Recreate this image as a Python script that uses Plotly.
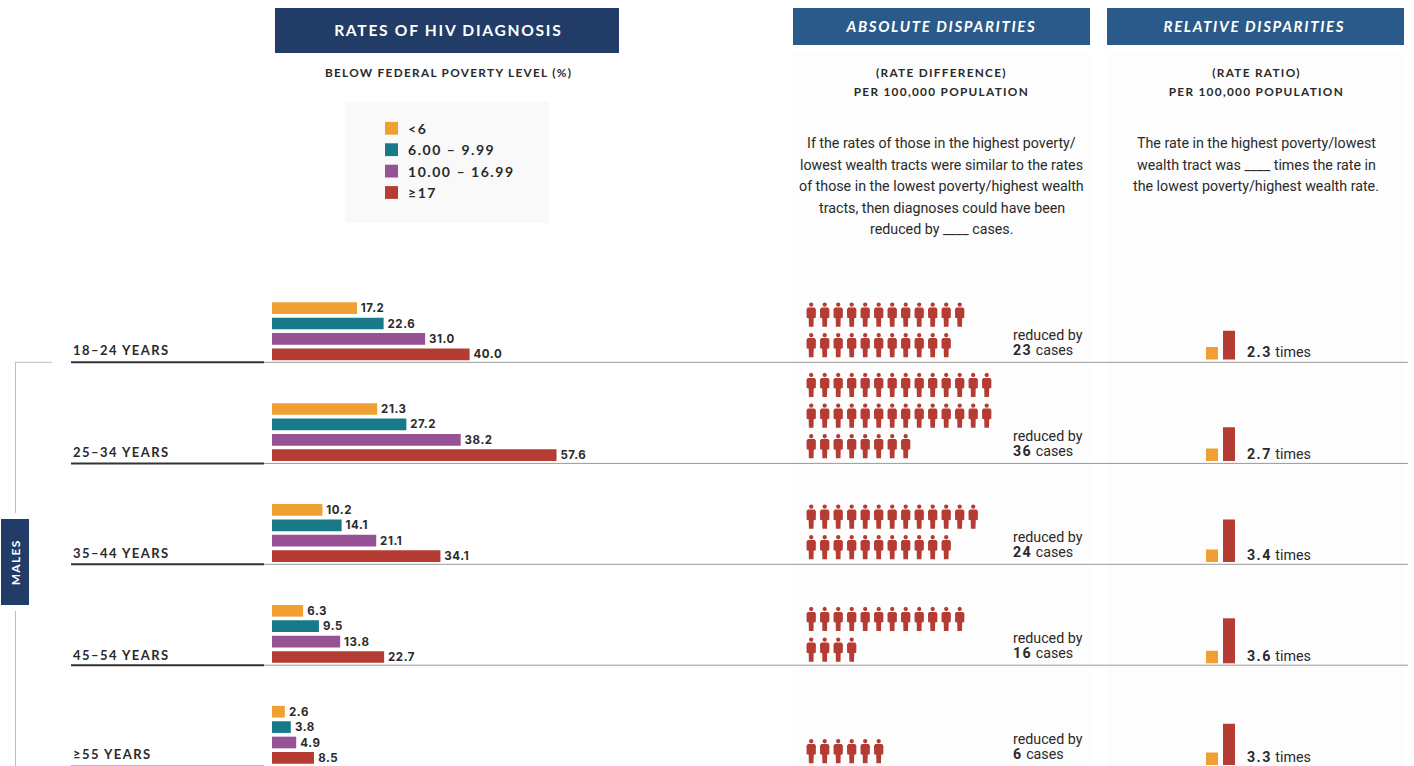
import plotly.graph_objects as go

W, H = 1414, 766

AGE_GROUPS = ["18–24 YEARS", "25–34 YEARS", "35–44 YEARS", "45–54 YEARS", "≥55 YEARS"]
POVERTY_LEVELS = ["<6", "6.00 – 9.99", "10.00 – 16.99", "≥17"]
RATE_LT6 = [17.2, 21.3, 10.2, 6.3, 2.6]
RATE_6_10 = [22.6, 27.2, 14.1, 9.5, 3.8]
RATE_10_17 = [31.0, 38.2, 21.1, 13.8, 4.9]
RATE_GE17 = [40.0, 57.6, 34.1, 22.7, 8.5]
CASES_REDUCED = [23, 36, 24, 16, 6]
PEOPLE_PER_ROW = [12, 14, 13, 12, 6]
RATE_RATIO = [2.3, 2.7, 3.4, 3.6, 3.3]

ORANGE = "#f0a033"
TEAL = "#187a89"
PURPLE = "#975295"
RED = "#b53c33"
NAVY = "#203c67"
BLUE = "#2a5a89"
INK = "#2a2a2a"
HEAD_FONT = "Lato"
BODY_FONT = "Roboto"
NUM_FONT = "Inter"

BAR_PX_PER_UNIT = 4.94
BAR_X0 = 272
ROW_PITCH = 100.9
FIRST_ROW_CENTER = 331.2
RATIO_PX_PER_UNIT = 12.5

ROW_LINES = [362.3, 463.4, 564.3, 665.2, 765.7]
PEOPLE_BOTTOM = [357.3, 458.3, 559.3, 661.7, 763.3]
RATIO_BOTTOM = [359.5, 461, 562, 663.3, 765]
REDUCED_Y = [335, 436, 537, 638, 739]
TIMES_Y = [352, 453.5, 554.5, 656, 757]
LABEL_Y = [350, 452, 553, 655, 754]

ABSOLUTE_NOTE = [
    "If the rates of those in the highest poverty/",
    "lowest wealth tracts were similar to the rates",
    "of those in the lowest poverty/highest wealth",
    "tracts, then diagnoses could have been",
    "reduced by ____ cases.",
]
RELATIVE_NOTE = [
    "The rate in the highest poverty/lowest",
    "wealth tract was ____ times the rate in",
    "the lowest poverty/highest wealth rate.",
]


def _rect(x0, y0, x1, y1, color, layer="below"):
    return dict(type="rect", xref="x2", yref="y2", x0=x0, y0=y0, x1=x1, y1=y1,
                fillcolor=color, line=dict(width=0), layer=layer)


def _line(x0, y0, x1, y1, color, width=1.0):
    return dict(type="line", xref="x2", yref="y2", x0=x0, y0=y0, x1=x1, y1=y1,
                line=dict(color=color, width=width), layer="below")


def _text(x, y, text, size, font=BODY_FONT, color=INK, anchor="center", bold=False, italic=False, angle=0):
    return dict(
        x=x, y=y, xref="x2", yref="y2", text=text, showarrow=False, xanchor=anchor, yanchor="middle",
        align=anchor, textangle=angle, borderpad=0, borderwidth=0,
        font=dict(family=font, size=size, color=color, weight=700 if bold else 400,
                  style="italic" if italic else "normal"),
    )


def _person(cx, bottom):
    # outline of one figure, measured upward from the feet
    outline = [(-2.3, 0), (2.3, 0), (2.5, 8.5), (4.6, 9), (4.7, 17.5), (3.4, 19.2), (-3.4, 19.2), (-4.7, 17.5),
               (-4.6, 9), (-2.5, 8.5), (-2.3, 0)]
    head = [(0, 24.3), (1.6, 23.7), (2.2, 22.1), (1.6, 20.5), (0, 19.9), (-1.6, 20.5), (-2.2, 22.1), (-1.6, 23.7), (0, 24.3)]
    xs, ys = [], []
    for part in (outline, head):
        xs += [cx + p[0] for p in part] + [None]
        ys += [bottom - p[1] for p in part] + [None]
    return xs, ys


fig = go.Figure()

for name, rates, color in zip(POVERTY_LEVELS, [RATE_LT6, RATE_6_10, RATE_10_17, RATE_GE17], [ORANGE, TEAL, PURPLE, RED]):
    fig.add_trace(go.Bar(
        y=AGE_GROUPS, x=rates, name=name, orientation="h", marker=dict(color=color, line=dict(width=0)),
        text=[f"{r:.1f}" for r in rates], textposition="outside", cliponaxis=False, constraintext="none",
        textfont=dict(family=NUM_FONT, size=11.5, color=INK, weight=700),
        hovertemplate="%{y}<br>" + name + ": %{x}<extra></extra>",
    ))

person_x, person_y = [], []
for cases, per_row, bottom in zip(CASES_REDUCED, PEOPLE_PER_ROW, PEOPLE_BOTTOM):
    rows = (cases + per_row - 1) // per_row
    for i in range(cases):
        row, col = divmod(i, per_row)
        xs, ys = _person(811.2 + 13.5 * col, bottom - 30.6 * (rows - 1 - row))
        person_x += xs
        person_y += ys
fig.add_trace(go.Scatter(
    x=person_x, y=person_y, xaxis="x2", yaxis="y2", mode="lines", fill="toself", fillcolor=RED,
    line=dict(width=0, color=RED), hoverinfo="skip",
))

ratio_x, ratio_h, ratio_base, ratio_color = [], [], [], []
for ratio, base in zip(RATE_RATIO, RATIO_BOTTOM):
    ratio_x += [1212, 1229]
    ratio_h += [-RATIO_PX_PER_UNIT, -RATIO_PX_PER_UNIT * ratio]
    ratio_base += [base, base]
    ratio_color += [ORANGE, RED]
fig.add_trace(go.Bar(
    x=ratio_x, y=ratio_h, base=ratio_base, width=12, xaxis="x2", yaxis="y2",
    marker=dict(color=ratio_color, line=dict(width=0)), hoverinfo="skip",
))

shapes = [
    _rect(793, 51, 1090, H, "#fdfdfd"),
    _rect(1107, 51, 1404, H, "#fdfdfd"),
    _rect(345, 102, 549, 223, "#f9f9f9"),
    _rect(275, 8, 619, 53, NAVY),
    _rect(793, 8, 1090, 45, BLUE),
    _rect(1107, 8, 1404, 45, BLUE),
    _rect(1, 519, 29, 605, NAVY),
    _line(15.5, 362.3, 15.5, 513, "#bdbdbd"),
    _line(15.5, 611, 15.5, H, "#bdbdbd"),
    _line(15, 362.3, 52, 362.3, "#bdbdbd"),
]
for i, y in enumerate(ROW_LINES):
    shapes.append(_line(71, y, 264, y, "#333333" if i < 4 else "#aaaaaa", 2 if i < 4 else 1))
    if i < 4:
        shapes.append(_line(264, y, 1408, y, "#999999"))

annotations = [
    _text(448.5, 30, "RATES OF HIV DIAGNOSIS", 15.6, HEAD_FONT, "#ffffff", bold=True),
    _text(940.5, 26, "ABSOLUTE DISPARITIES", 15, HEAD_FONT, "#ffffff", bold=True, italic=True),
    _text(1254, 26, "RELATIVE DISPARITIES", 15, HEAD_FONT, "#ffffff", bold=True, italic=True),
    _text(448, 72, "BELOW FEDERAL POVERTY LEVEL (%)", 11.8, HEAD_FONT, bold=True),
    _text(941.5, 72, "(RATE DIFFERENCE)", 11.8, HEAD_FONT, bold=True),
    _text(941.5, 91, "PER 100,000 POPULATION", 11.8, HEAD_FONT, bold=True),
    _text(1256, 72, "(RATE RATIO)", 11.8, HEAD_FONT, bold=True),
    _text(1256, 91, "PER 100,000 POPULATION", 11.8, HEAD_FONT, bold=True),
    _text(15, 562, "MALES", 12, HEAD_FONT, "#ffffff", bold=True, angle=-90),
]
for i, line in enumerate(ABSOLUTE_NOTE):
    annotations.append(_text(941.5, 143 + 21.5 * i, line, 14.25))
for i, line in enumerate(RELATIVE_NOTE):
    annotations.append(_text(1256, 143 + 21.5 * i, line, 14.25))
for i, (name, color) in enumerate(zip(POVERTY_LEVELS, [ORANGE, TEAL, PURPLE, RED])):
    y = 128.3 + 21.4 * i
    shapes.append(_rect(385, y - 6.4, 398, y + 6.4, color))
    annotations.append(_text(408, y, name, 14, HEAD_FONT, anchor="left", bold=True))
for i, group in enumerate(AGE_GROUPS):
    annotations.append(_text(72.5, LABEL_Y[i], group, 13, HEAD_FONT, anchor="left", bold=True))
    annotations.append(_text(1012.5, REDUCED_Y[i], "reduced by", 14.25, anchor="left"))
    annotations.append(_text(1012.5, REDUCED_Y[i] + 15, f"<b>{CASES_REDUCED[i]}</b> cases", 14.25, anchor="left"))
    annotations.append(_text(1246.5, TIMES_Y[i], f"<b>{RATE_RATIO[i]}</b> times", 14.25, anchor="left"))

fig.update_layout(
    width=W,
    height=H,
    margin=dict(l=0, r=0, t=0, b=0),
    paper_bgcolor="#ffffff",
    plot_bgcolor="rgba(0,0,0,0)",
    showlegend=False,
    barmode="group",
    bargap=1 - 61.6 / ROW_PITCH,
    bargroupgap=0.24,
    xaxis=dict(range=[-BAR_X0 / BAR_PX_PER_UNIT, (W - BAR_X0) / BAR_PX_PER_UNIT], visible=False, fixedrange=True),
    yaxis=dict(
        type="category", categoryorder="array", categoryarray=AGE_GROUPS, visible=False, fixedrange=True,
        range=[(H - FIRST_ROW_CENTER) / ROW_PITCH, -FIRST_ROW_CENTER / ROW_PITCH],
    ),
    xaxis2=dict(range=[0, W], visible=False, fixedrange=True, overlaying="x"),
    yaxis2=dict(range=[H, 0], visible=False, fixedrange=True, overlaying="y"),
    shapes=shapes,
    annotations=annotations,
)

# plotly has no letter-spacing option, the headings need it
SPACING_JS = """
document.body.style.margin = '0';
document.body.style.overflow = 'hidden';
document.querySelectorAll('text.annotation-text').forEach(function (el) {
  var t = el.textContent;
  if (t === t.toUpperCase()) { el.style.letterSpacing = '0.11em'; }
});
document.querySelectorAll('text.annotation-text tspan').forEach(function (el) {
  if ((el.getAttribute('style') || '').indexOf('bold') >= 0) { el.style.letterSpacing = '0.1em'; }
});
document.querySelectorAll('text.bartext').forEach(function (el) {
  el.style.letterSpacing = '0.05em';
  el.setAttribute('dx', '2');
});
"""

fig.write_html("out.html", post_script=SPACING_JS, config=dict(displayModeBar=False))
